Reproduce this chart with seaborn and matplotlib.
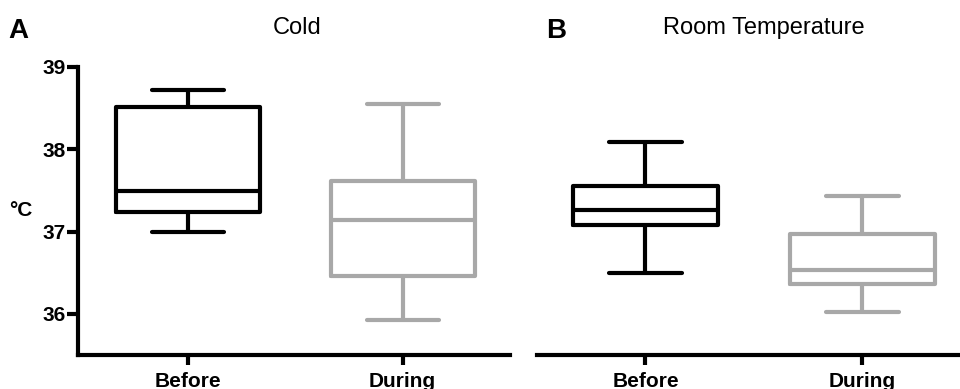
import matplotlib
matplotlib.use("Agg")
import matplotlib.pyplot as plt
import seaborn as sns
import pandas as pd

# Five-number summaries: min, Q1, median, Q3, max (°C)
cold_before = [37.00, 37.24, 37.49, 38.51, 38.72]
cold_during = [35.92, 36.46, 37.14, 37.61, 38.55]
room_before = [36.50, 37.08, 37.26, 37.55, 38.09]
room_during = [36.02, 36.36, 36.53, 36.97, 37.43]

phases = ["Before", "During"]
panel_titles = ["Cold", "Room Temperature"]
panel_letters = ["A", "B"]
y_ticks = [36, 37, 38, 39]

palette = {"Before": "black", "During": "#a8a8a8"}

sns.set_style("ticks")
plt.rcParams['font.family'] = ['Liberation Sans', 'DejaVu Sans']
plt.rcParams['axes.edgecolor'] = 'black'
plt.rcParams['text.color'] = 'black'
plt.rcParams['xtick.color'] = 'black'
plt.rcParams['ytick.color'] = 'black'
plt.rcParams['axes.labelcolor'] = 'black'


def make_df(before, during):
    return pd.DataFrame({
        "phase": ["Before"] * len(before) + ["During"] * len(during),
        "temp": before + during,
    })


fig = plt.figure(figsize=(9.6, 3.89), dpi=100)
ax1 = fig.add_axes([0.08125, 0.0874, 0.45, 0.7404])
ax2 = fig.add_axes([0.5594, 0.0874, 0.4406, 0.7404])

for ax, df in [(ax1, make_df(cold_before, cold_during)),
               (ax2, make_df(room_before, room_during))]:
    sns.boxplot(data=df, x="phase", y="temp", hue="phase", order=phases,
                palette=palette, fill=False, width=0.67, linewidth=3,
                whis=(0, 100), legend=False, ax=ax)
    ax.set_ylim(35.5, 39)
    ax.set_xlabel("")
    for s in ["top", "right"]:
        ax.spines[s].set_visible(False)
    ax.spines["bottom"].set_linewidth(3)
    ax.spines["left"].set_linewidth(3)
    ax.tick_params(axis="x", length=7, width=3, pad=5, labelsize=15)
    for lbl in ax.get_xticklabels():
        lbl.set_fontweight("bold")

ax1.set_xlim(-0.51, 1.5)
ax2.set_xlim(-0.5, 1.45)

ax1.set_yticks(y_ticks)
ax1.tick_params(axis="y", length=8, width=3, pad=1, labelsize=15)
for lbl in ax1.get_yticklabels():
    lbl.set_fontweight("bold")
ax1.set_ylabel("°C", rotation=0, fontsize=15, fontweight="bold", va="center", ha="center")
ax1.yaxis.set_label_coords(-0.132, 0.5)

ax2.spines["left"].set_visible(False)
ax2.set_yticks([])
ax2.set_ylabel("")

# panel titles and letters
fig.text(0.31, 0.9126, panel_titles[0], fontsize=17, ha="center", va="baseline")
fig.text(0.796, 0.9126, panel_titles[1], fontsize=17, ha="center", va="baseline")
fig.text(0.009, 0.902, panel_letters[0], fontsize=20, fontweight="bold", va="baseline")
fig.text(0.569, 0.902, panel_letters[1], fontsize=20, fontweight="bold", va="baseline")

fig.savefig("out.png", dpi=100)
